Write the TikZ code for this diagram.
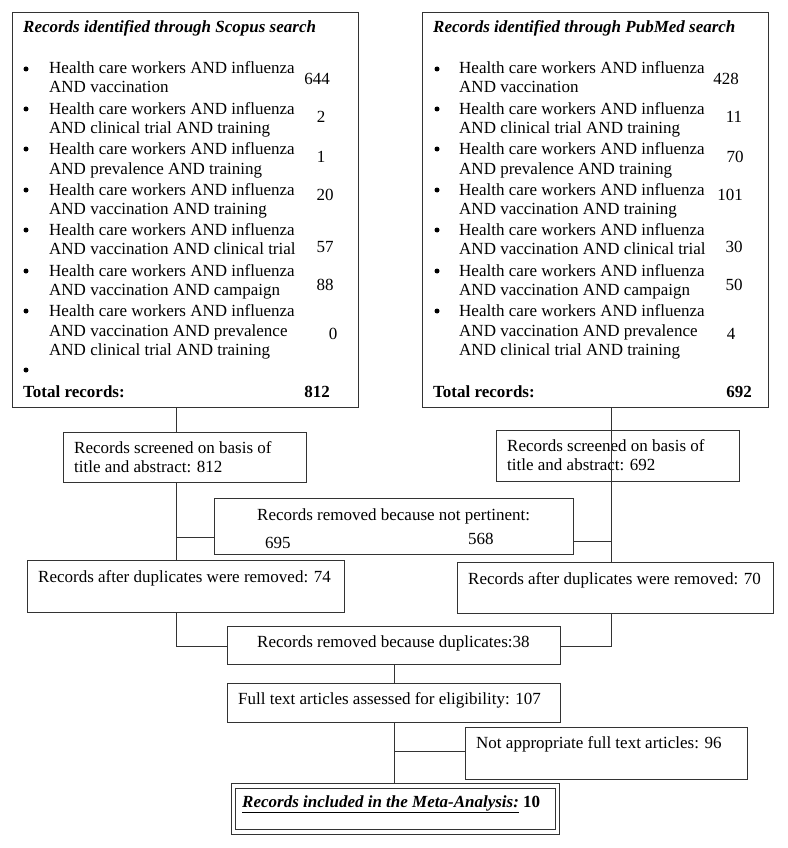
\documentclass[tikz,border=0pt]{standalone}
\usepackage{fontspec}
\setmainfont{Liberation Serif}
\newcommand\fs{\fontsize{17}{20}\selectfont}
\newcommand\mybox[5]{\node[box, minimum width=#4pt, minimum height=#5pt] (#1) at (#2,#3) {};}
\begin{document}
\begin{tikzpicture}[x=1pt,y=-1pt,
  box/.style={draw=black!80, line width=0.9pt, anchor=north west, inner sep=0pt, outer sep=0pt},
  t/.style={anchor=base west, inner sep=0pt, font=\fs},
  tn/.style={anchor=base, inner sep=0pt, font=\fs},
  bul/.style={circle, fill=black, inner sep=0pt, minimum size=5pt},
  ln/.style={draw=black!80, line width=0.9pt}]
\useasboundingbox (0,0) rectangle (787,848);
% ---------- boxes ----------
\mybox{topL}{12}{12}{346}{395}
\mybox{topR}{422}{12}{346}{395}
\mybox{sL}{63}{432}{243}{50}
\mybox{sR}{496}{430}{243}{51}
\mybox{pert}{214}{498}{359}{56}
\mybox{dL}{27}{560}{317}{52}
\mybox{dR}{457}{562}{316}{51}
\mybox{dup}{227}{626}{333}{38}
\mybox{full}{227}{683}{333}{39}
\mybox{na}{465}{727}{282}{52}
\mybox{metaO}{231}{783}{328}{51}
\mybox{metaI}{235}{788}{320}{41}
% ---------- helper coordinates for connector columns ----------
\coordinate (xL) at (176,0);
\coordinate (xR) at (611,0);
\coordinate (xC) at (394,0);
\coordinate (yP1) at (0,537);
\coordinate (yP2) at (0,541);
\coordinate (yD) at (0,646);
\coordinate (yN) at (0,751);
% ---------- left top box text ----------
\node[t, font=\fs\bfseries\itshape] (tL) at (23,33) {Records identified through Scopus search};
\node[t] (L1a) at (49,74) {Health care workers AND influenza};
\node[t] (L1b) at (49,93) {AND vaccination};
\node[t] (L2a) at (49,114) {Health care workers AND influenza};
\node[t] (L2b) at (49,133) {AND clinical trial AND training};
\node[t] (L3a) at (49,154) {Health care workers AND influenza};
\node[t] (L3b) at (49,174) {AND prevalence AND training};
\node[t] (L4a) at (49,195) {Health care workers AND influenza};
\node[t] (L4b) at (49,214) {AND vaccination AND training};
\node[t] (L5a) at (49,235) {Health care workers AND influenza};
\node[t] (L5b) at (49,254) {AND vaccination AND clinical trial};
\node[t] (L6a) at (49,276) {Health care workers AND influenza};
\node[t] (L6b) at (49,295) {AND vaccination AND campaign};
\node[t] (L7a) at (49,316) {Health care workers AND influenza};
\node[t] (L7b) at (49,336) {AND vaccination AND prevalence};
\node[t] (L7c) at (49,355) {AND clinical trial AND training};
\node[bul] (Lb1) at (26,69) {};
\node[bul] (Lb2) at (26,109) {};
\node[bul] (Lb3) at (26,149) {};
\node[bul] (Lb4) at (26,190) {};
\node[bul] (Lb5) at (26,230) {};
\node[bul] (Lb6) at (26,271) {};
\node[bul] (Lb7) at (26,311) {};
\node[bul] (Lb8) at (26,370) {};
\node[tn] (Ln1) at (317,85) {644};
\node[tn] (Ln2) at (321,123) {2};
\node[tn] (Ln3) at (321,162) {1};
\node[tn] (Ln4) at (325,200) {20};
\node[tn] (Ln5) at (325,252) {57};
\node[tn] (Ln6) at (325,290) {88};
\node[tn] (Ln7) at (333,339) {0};
\node[t, font=\fs\bfseries] (Ltot) at (23,397) {Total records:};
\node[tn, font=\fs\bfseries] (Ltn) at (317,397) {812};
% ---------- right top box text ----------
\node[t, font=\fs\bfseries\itshape] (tR) at (433,33) {Records identified through PubMed search};
\node[t] (R1a) at (459,74) {Health care workers AND influenza};
\node[t] (R1b) at (459,93) {AND vaccination};
\node[t] (R2a) at (459,114) {Health care workers AND influenza};
\node[t] (R2b) at (459,133) {AND clinical trial AND training};
\node[t] (R3a) at (459,154) {Health care workers AND influenza};
\node[t] (R3b) at (459,174) {AND prevalence AND training};
\node[t] (R4a) at (459,195) {Health care workers AND influenza};
\node[t] (R4b) at (459,214) {AND vaccination AND training};
\node[t] (R5a) at (459,235) {Health care workers AND influenza};
\node[t] (R5b) at (459,254) {AND vaccination AND clinical trial};
\node[t] (R6a) at (459,276) {Health care workers AND influenza};
\node[t] (R6b) at (459,295) {AND vaccination AND campaign};
\node[t] (R7a) at (459,316) {Health care workers AND influenza};
\node[t] (R7b) at (459,336) {AND vaccination AND prevalence};
\node[t] (R7c) at (459,355) {AND clinical trial AND training};
\node[bul] (Rb1) at (437,69) {};
\node[bul] (Rb2) at (437,109) {};
\node[bul] (Rb3) at (437,149) {};
\node[bul] (Rb4) at (437,190) {};
\node[bul] (Rb5) at (437,230) {};
\node[bul] (Rb6) at (437,271) {};
\node[bul] (Rb7) at (437,311) {};
\node[tn] (Rn1) at (726,85) {428};
\node[tn] (Rn2) at (734,123) {11};
\node[tn] (Rn3) at (735,162) {70};
\node[tn] (Rn4) at (730,200) {101};
\node[tn] (Rn5) at (734,252) {30};
\node[tn] (Rn6) at (734,290) {50};
\node[tn] (Rn7) at (731,339) {4};
\node[t, font=\fs\bfseries] (Rtot) at (433,397) {Total records:};
\node[tn, font=\fs\bfseries] (Rtn) at (739,397) {692};
% ---------- lower texts ----------
\node[t] (sL1) at (74,453) {Records screened on basis of};
\node[t] (sL2) at (74,472) {title and abstract: 812};
\node[t] (sR1) at (507,451) {Records screened on basis of};
\node[t] (sR2) at (507,470) {title and abstract: 692};
\node[t] (p1) at (257,520) {Records removed because not pertinent:};
\node[t] (p2) at (265,548) {695};
\node[t] (p3) at (468,544) {568};
\node[t] (dLt) at (38,582) {Records after duplicates were removed: 74};
\node[t] (dRt) at (468,584) {Records after duplicates were removed: 70};
\node[t] (dupt) at (257,647) {Records removed because duplicates:38};
\node[t] (fullt) at (238,704) {Full text articles assessed for eligibility: 107};
\node[t] (nat) at (476,748) {Not appropriate full text articles: 96};
\node[t] (metat) at (242,807) {\underline{\textbf{\textit{Records included in the Meta-Analysis:}}} \textbf{10}};
% ---------- connectors ----------
\draw[ln] (topL.south -| xL) -- (sL.north -| xL);
\draw[ln] (sL.south -| xL) -- (dL.north -| xL);
\draw[ln] (yP1 -| xL) -- (yP1 -| pert.west);
\draw[ln] (topR.south -| xR) -- (dR.north -| xR);
\draw[ln] (yP2 -| pert.east) -- (yP2 -| xR);
\draw[ln] (dL.south -| xL) -- (yD -| xL) -- (yD -| dup.west);
\draw[ln] (dR.south -| xR) -- (yD -| xR) -- (yD -| dup.east);
\draw[ln] (dup.south -| xC) -- (full.north -| xC);
\draw[ln] (full.south -| xC) -- (metaO.north -| xC);
\draw[ln] (yN -| xC) -- (yN -| na.west);
\end{tikzpicture}
\end{document}
